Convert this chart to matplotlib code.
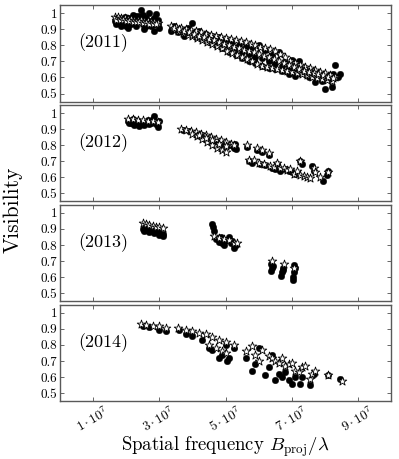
import numpy as np
import matplotlib
matplotlib.use("Agg")
import matplotlib.pyplot as plt

plt.rcParams["font.family"] = "serif"
plt.rcParams["font.serif"] = ["cmr10"]
plt.rcParams["mathtext.fontset"] = "cm"
plt.rcParams["axes.unicode_minus"] = False

# x in units of 1e7 (B_proj / lambda)
years = ["(2011)", "(2012)", "(2013)", "(2014)"]

# ---- 2011 ----
obs11_x = [1.65, 1.7, 1.75, 1.8, 1.85, 1.9, 1.95, 2.0, 2.05, 2.1, 2.15, 2.2, 2.25, 2.3,
           2.35, 2.4, 2.45, 2.5, 2.55, 2.6, 2.65, 2.7, 2.75, 2.8, 2.85, 2.9, 2.95, 3.0,
           2.3, 2.5, 2.0, 1.8, 2.6, 2.4, 2.7, 2.85, 2.95, 2.2, 1.95, 2.12,
           3.35, 3.45, 3.55, 3.65, 3.75, 3.85, 3.95, 4.0, 4.1, 4.2, 4.3, 4.4, 4.5, 4.6,
           4.7, 4.8, 4.9, 5.0, 5.1, 5.2, 5.3, 5.4, 5.5, 5.6, 5.7, 5.8, 5.9, 6.0, 6.1,
           6.2, 6.3, 6.4, 6.5, 6.6, 6.7, 6.8, 6.9, 7.0, 7.1, 7.2, 7.3, 7.4, 7.5, 7.6,
           7.7, 7.8, 7.9, 8.0, 8.1, 8.2, 8.25, 8.3, 8.4, 8.45,
           3.5, 3.9, 4.3, 4.7, 5.1, 5.5, 5.9, 6.3, 6.7, 7.1, 7.5, 7.9, 4.5, 5.3, 6.1,
           6.9, 7.7, 3.7, 4.9, 6.5, 7.3, 8.1, 5.7, 6.95]
obs11_y = [0.95, 0.93, 0.97, 0.94, 0.92, 0.96, 0.93, 0.95, 0.91, 0.97, 0.93, 0.99, 0.94, 0.92,
           0.96, 0.98, 1.02, 0.93, 0.90, 0.97, 0.94, 1.0, 0.92, 0.96, 0.89, 0.995, 0.93, 0.91,
           0.985, 0.99, 0.92, 0.96, 0.92, 0.95, 0.95, 0.97, 0.96, 0.95, 0.975, 0.94,
           0.89, 0.92, 0.88, 0.90, 0.86, 0.91, 0.87, 0.94, 0.85, 0.89, 0.84, 0.87, 0.82, 0.86,
           0.80, 0.85, 0.78, 0.84, 0.76, 0.82, 0.74, 0.80, 0.72, 0.79, 0.70, 0.78, 0.69, 0.80, 0.67,
           0.77, 0.66, 0.74, 0.65, 0.76, 0.64, 0.69, 0.62, 0.71, 0.61, 0.70, 0.63, 0.66, 0.60, 0.64,
           0.57, 0.62, 0.58, 0.53, 0.59, 0.54, 0.62, 0.68, 0.60, 0.62,
           0.90, 0.89, 0.86, 0.83, 0.80, 0.76, 0.73, 0.70, 0.67, 0.645, 0.62, 0.61, 0.84, 0.78, 0.72,
           0.66, 0.60, 0.88, 0.815, 0.69, 0.65, 0.615, 0.745, 0.64]
mod11_x = [1.65, 1.75, 1.85, 1.95, 2.05, 2.15, 2.25, 2.35, 2.45, 2.55, 2.65, 2.75, 2.85, 2.95,
           1.7, 1.8, 1.9, 2.0, 2.1, 2.2, 2.3, 2.4, 2.5, 2.6, 2.7, 2.8, 2.9,
           3.35, 3.5, 3.65, 3.8, 3.95, 4.1, 4.25, 4.4, 4.55, 4.7, 4.85, 5.0, 5.15, 5.3, 5.45,
           5.6, 5.75, 5.9, 6.05, 6.2, 6.35, 6.5, 6.65, 6.8, 6.95, 7.1, 7.25, 7.4, 7.55, 7.7,
           7.85, 8.0, 8.15, 8.3,
           3.4, 3.55, 3.7, 3.85, 4.0, 4.15, 4.3, 4.45, 4.6, 4.75, 4.9, 5.05, 5.2, 5.35, 5.5,
           5.65, 5.8, 5.95, 6.1, 6.25, 6.4, 6.55, 6.7, 6.85, 7.0, 7.15, 7.3, 7.45, 7.6, 7.75,
           7.9, 8.05, 8.2,
           3.45, 3.6, 3.75, 3.9, 4.05, 4.2, 4.35, 4.5, 4.65, 4.8, 4.95, 5.1, 5.25, 5.4, 5.55,
           5.7, 5.85, 6.0, 6.15, 6.3, 6.45, 6.6, 6.75, 6.9, 7.05, 7.2, 7.35, 7.5, 7.65, 7.8,
           7.95, 8.1, 8.25]
mod11_y = [0.975, 0.973, 0.97, 0.968, 0.965, 0.962, 0.96, 0.957, 0.955, 0.952, 0.95, 0.947, 0.944, 0.94,
           0.96, 0.958, 0.955, 0.952, 0.95, 0.947, 0.945, 0.942, 0.94, 0.937, 0.935, 0.932, 0.93,
           0.92, 0.915, 0.91, 0.90, 0.895, 0.888, 0.88, 0.873, 0.866, 0.858, 0.852, 0.845, 0.838, 0.83, 0.825,
           0.818, 0.81, 0.80, 0.792, 0.783, 0.775, 0.765, 0.745, 0.725, 0.705, 0.69, 0.678, 0.667, 0.656, 0.645,
           0.635, 0.625, 0.615, 0.605,
           0.90, 0.89, 0.878, 0.866, 0.855, 0.843, 0.831, 0.82, 0.806, 0.793, 0.78, 0.765, 0.752, 0.738, 0.725,
           0.713, 0.70, 0.685, 0.672, 0.665, 0.658, 0.652, 0.646, 0.64, 0.634, 0.628, 0.62, 0.612, 0.605, 0.597,
           0.59, 0.582, 0.575,
           0.91, 0.90, 0.89, 0.88, 0.87, 0.86, 0.85, 0.84, 0.83, 0.82, 0.81, 0.80, 0.79, 0.78, 0.77,
           0.762, 0.755, 0.745, 0.735, 0.725, 0.712, 0.70, 0.688, 0.675, 0.662, 0.652, 0.643, 0.635, 0.627, 0.62,
           0.612, 0.604, 0.596]

# ---- 2012 ----
obs12_x = [2.05, 2.1, 2.2, 2.25, 2.35, 2.4, 2.5, 2.55, 2.65, 2.7, 2.8, 2.85, 2.9, 2.95, 2.98,
           2.15, 2.45, 2.75,
           3.7, 3.9, 4.1, 4.3, 4.5, 4.7, 4.9, 5.1, 5.25, 5.3, 4.4, 4.6, 4.8, 5.0, 4.2, 5.2, 5.28,
           5.65, 5.7, 5.8, 5.95, 6.05, 6.1, 6.2, 6.3, 6.4, 6.5, 6.55, 6.65, 6.8, 6.9, 7.0, 7.1,
           7.25, 7.3, 7.6, 7.65, 7.95, 8.05, 8.1]
obs12_y = [0.95, 0.935, 0.96, 0.925, 0.95, 0.92, 0.945, 0.925, 0.955, 0.93, 0.96, 0.98, 0.93, 0.91, 0.95,
           0.94, 0.935, 0.94,
           0.895, 0.885, 0.87, 0.86, 0.84, 0.825, 0.81, 0.80, 0.785, 0.775, 0.85, 0.835, 0.82, 0.805, 0.865, 0.80, 0.81,
           0.79, 0.70, 0.69, 0.77, 0.68, 0.76, 0.675, 0.74, 0.66, 0.65, 0.68, 0.64, 0.65, 0.64, 0.635, 0.62,
           0.70, 0.68, 0.67, 0.64, 0.58, 0.615, 0.64]
mod12_x = [2.05, 2.2, 2.35, 2.5, 2.65, 2.8, 2.95,
           3.65, 3.8, 3.95, 4.1, 4.25, 4.4, 4.55, 4.7, 4.85, 5.0, 5.15, 5.25,
           4.0, 4.15, 4.3, 4.45, 4.6, 4.75, 4.9, 5.0, 4.2, 4.4, 4.6, 4.8, 5.0,
           5.65, 5.7, 5.85, 5.95, 6.0, 6.1, 6.15, 6.3, 6.35, 6.45, 6.55, 6.65, 6.75, 6.85,
           6.95, 7.05, 7.15, 7.25, 7.25, 7.35, 7.45, 7.55, 7.65, 7.7, 7.85, 8.1]
mod12_y = [0.965, 0.962, 0.958, 0.955, 0.952, 0.95, 0.945,
           0.90, 0.895, 0.89, 0.88, 0.87, 0.86, 0.85, 0.84, 0.83, 0.82, 0.81, 0.80,
           0.87, 0.855, 0.84, 0.82, 0.80, 0.785, 0.77, 0.76, 0.86, 0.845, 0.83, 0.81, 0.795,
           0.80, 0.71, 0.705, 0.78, 0.69, 0.77, 0.685, 0.75, 0.67, 0.665, 0.69, 0.655, 0.66, 0.645,
           0.65, 0.62, 0.64, 0.70, 0.615, 0.605, 0.60, 0.595, 0.66, 0.63, 0.60, 0.63]

# ---- 2013 ----
obs13_x = [2.5, 2.55, 2.65, 2.7, 2.8, 2.85, 2.95, 3.0, 3.1, 3.12, 2.6, 2.9,
           4.6, 4.62, 4.65, 4.7, 4.8, 4.85, 4.95, 5.0, 5.1, 5.15, 5.25, 5.3, 4.9, 5.2,
           6.38, 6.4, 6.36, 6.42, 6.72, 6.7, 6.68, 6.74, 7.05, 7.06, 7.04, 7.03, 7.08]
obs13_y = [0.90, 0.89, 0.895, 0.88, 0.89, 0.875, 0.88, 0.865, 0.87, 0.855, 0.91, 0.90,
           0.93, 0.91, 0.89, 0.84, 0.82, 0.85, 0.80, 0.83, 0.85, 0.81, 0.78, 0.80, 0.815, 0.825,
           0.68, 0.66, 0.64, 0.67, 0.66, 0.63, 0.61, 0.645, 0.675, 0.63, 0.60, 0.58, 0.655]
mod13_x = [2.5, 2.6, 2.7, 2.8, 2.9, 3.0, 3.1,
           4.65, 4.8, 4.95, 5.1, 5.25, 5.35,
           6.4, 6.75, 7.05]
mod13_y = [0.935, 0.93, 0.925, 0.92, 0.915, 0.91, 0.905,
           0.855, 0.845, 0.835, 0.83, 0.815, 0.81,
           0.70, 0.68, 0.655]

# ---- 2014 ----
obs14_x = [2.5, 2.7, 3.0, 3.2, 3.6, 3.8, 4.0, 4.3, 4.5, 4.6, 4.8, 4.9, 5.05, 5.1, 5.0, 5.25,
           5.6, 5.8, 5.9, 6.0, 6.2, 6.3, 6.4, 6.5, 6.6, 6.7, 6.8, 6.9, 7.0, 7.1, 7.25, 7.3,
           7.55, 7.65, 8.1, 8.45]
obs14_y = [0.92, 0.91, 0.895, 0.885, 0.89, 0.87, 0.855, 0.83, 0.78, 0.77, 0.72, 0.74, 0.70, 0.72, 0.80, 0.78,
           0.72, 0.64, 0.68, 0.78, 0.61, 0.66, 0.74, 0.58, 0.62, 0.60, 0.63, 0.58, 0.555, 0.60, 0.555, 0.60,
           0.55, 0.62, 0.61, 0.59]
mod14_x = [2.45, 2.6, 2.8, 3.0, 3.2, 3.55, 3.8, 4.0, 4.2, 4.4, 4.6, 4.8, 5.0, 5.25,
           4.5, 4.7, 4.9, 5.0,
           5.6, 5.8, 5.9, 6.0, 6.1, 6.3, 6.4, 6.5, 6.6, 6.7, 6.8, 6.9, 7.0, 7.1, 7.2, 7.3,
           7.4, 7.55, 7.6, 7.7, 8.1, 8.5]
mod14_y = [0.93, 0.925, 0.92, 0.915, 0.905, 0.905, 0.895, 0.885, 0.875, 0.865, 0.85, 0.83, 0.82, 0.80,
           0.80, 0.78, 0.76, 0.75,
           0.76, 0.79, 0.74, 0.70, 0.77, 0.73, 0.72, 0.70, 0.69, 0.72, 0.67, 0.68, 0.69, 0.64, 0.63, 0.66,
           0.67, 0.59, 0.62, 0.64, 0.61, 0.575]

obs = [(obs11_x, obs11_y), (obs12_x, obs12_y), (obs13_x, obs13_y), (obs14_x, obs14_y)]
mod = [(mod11_x, mod11_y), (mod12_x, mod12_y), (mod13_x, mod13_y), (mod14_x, mod14_y)]

xticks = [1, 3, 5, 7, 9]
xtick_labels = [r"$1\cdot10^{7}$", r"$3\cdot10^{7}$", r"$5\cdot10^{7}$",
                r"$7\cdot10^{7}$", r"$9\cdot10^{7}$"]
yticks = [0.5, 0.6, 0.7, 0.8, 0.9, 1.0]
ytick_labels = ["0.5", "0.6", "0.7", "0.8", "0.9", "1"]

fig, axes = plt.subplots(4, 1, figsize=(3.99, 4.59), dpi=100, sharex=True)
fig.subplots_adjust(left=0.150, right=0.981, top=0.989, bottom=0.126, hspace=0.035)

for i, ax in enumerate(axes):
    ox, oy = obs[i]
    mx, my = mod[i]
    ax.scatter(ox, oy, s=22, c="black", edgecolors="black", linewidths=0.3, zorder=2)
    ax.scatter(mx, my, s=42, marker="*", c="white", edgecolors="black", linewidths=0.6, zorder=3)

    ax.set_xlim(0, 10)
    ax.set_ylim(0.45, 1.05)
    ax.set_yticks(yticks)
    ax.set_yticklabels(ytick_labels)
    ax.set_xticks(xticks)
    ax.tick_params(direction="in", top=True, right=True, length=3, width=0.6,
                   labelsize=9.5, color="0.3", pad=2)
    for sp in ax.spines.values():
        sp.set_color("0.35")
        sp.set_linewidth(1.0)
    ax.text(0.55, 0.815, years[i], fontsize=13, va="center", ha="left")

axes[-1].set_xticklabels(xtick_labels, rotation=30, ha="center")
axes[-1].set_xlabel(r"Spatial frequency $B_{\rm proj}/\lambda$", fontsize=13.5, labelpad=0)
fig.text(0.033, 0.543, "Visibility", rotation=90, fontsize=15.5, va="center", ha="center")

plt.savefig("out.png", dpi=100)
